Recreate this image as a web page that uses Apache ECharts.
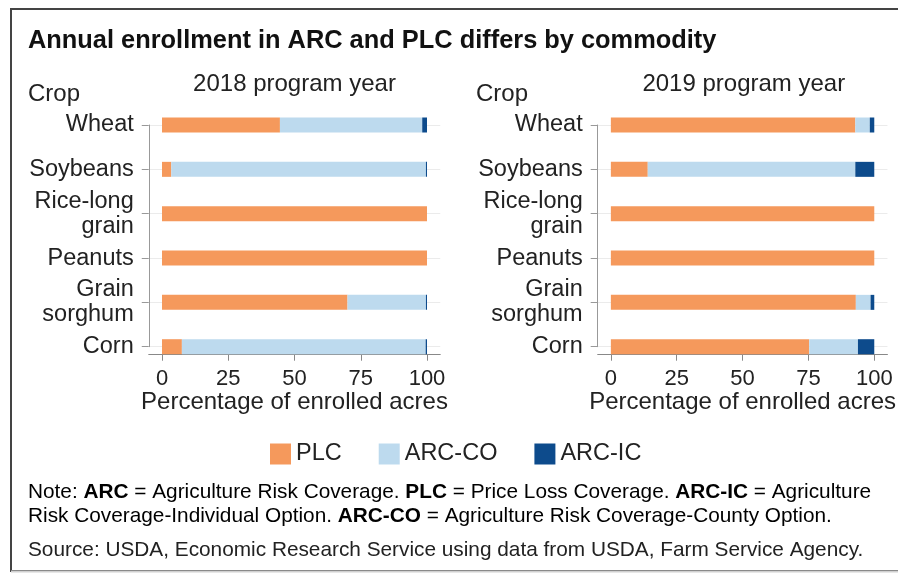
<!DOCTYPE html>
<html>
<head>
<meta charset="utf-8">
<script src="https://cdn.jsdelivr.net/npm/echarts@6/dist/echarts.min.js"></script>
<style>
html,body{margin:0;padding:0;background:#fff;}
#c{width:898px;height:577px;}
</style>
</head>
<body>
<div id="c"></div>
<script>
const categories = ['Wheat', 'Soybeans', 'Rice-long\ngrain', 'Peanuts', 'Grain\nsorghum', 'Corn'];
const plc2018   = [44.5, 3.5, 100, 100, 70, 7.5];
const arcco2018 = [53.7, 96.1, 0, 0, 29.6, 92];
const arcic2018 = [1.8, 0.4, 0, 0, 0.4, 0.5];
const plc2019   = [92.8, 14, 100, 100, 93, 75.3];
const arcco2019 = [5.5, 78.8, 0, 0, 5.6, 18.5];
const arcic2019 = [1.7, 7.2, 0, 0, 1.4, 6.2];
const xTicks = [0, 25, 50, 75, 100];
const seriesNames = ['PLC', 'ARC-CO', 'ARC-IC'];
const panelTitles = ['2018 program year', '2019 program year'];

const FONT = '"Liberation Sans", Arial, sans-serif';
const TXT = '#222';
const colors = ['#F5995C', '#BDDAEE', '#0D4B8C'];

const chart = echarts.init(document.getElementById('c'), null, {renderer: 'canvas'});

const grids = [
  {left: 148.75, width: 291.5, top: 125, height: 221.7},
  {left: 597.7, width: 292.3, top: 125, height: 221.7}
];

function xAxisFor(i) {
  return {
    type: 'value', gridIndex: i, min: -5, max: 105, offset: 8,
    axisLine: {show: true, onZero: false, lineStyle: {color: '#888', width: 1}},
    axisTick: {show: true, customValues: xTicks, length: 6, lineStyle: {color: '#888'}},
    axisLabel: {customValues: xTicks, fontSize: 22, color: TXT, fontFamily: FONT, margin: 13},
    splitLine: {show: false},
    name: 'Percentage of enrolled acres', nameLocation: 'middle', nameGap: 36,
    nameTextStyle: {fontSize: 24, color: TXT, fontFamily: FONT}
  };
}
function yAxisFor(i) {
  return {
    type: 'category', gridIndex: i, inverse: true, boundaryGap: false, data: categories,
    axisLine: {show: true, onZero: false, lineStyle: {color: '#999', width: 1}},
    axisTick: {show: true, length: 7, lineStyle: {color: '#999'}},
    splitLine: {show: true, lineStyle: {color: '#ebebeb', width: 1}},
    axisLabel: {fontSize: 23.5, color: TXT, fontFamily: FONT, lineHeight: 25, margin: 15, align: 'right'}
  };
}
const sets = [[plc2018, arcco2018, arcic2018], [plc2019, arcco2019, arcic2019]];
const series = [];
sets.forEach((vals, gi) => {
  vals.forEach((arr, si) => {
    series.push({
      type: 'bar', name: seriesNames[si], xAxisIndex: gi, yAxisIndex: gi,
      stack: 's' + gi, data: arr, barWidth: 15, clip: false,
      itemStyle: {color: colors[si]}, emphasis: {disabled: true}, animation: false
    });
  });
});

const noteStyle = {
  n: {fontSize: 20.8, fontFamily: FONT, color: TXT},
  b: {fontSize: 20.8, fontFamily: FONT, fontWeight: 'bold', color: TXT}
};

chart.setOption({
  backgroundColor: '#fff',
  animation: false,
  grid: grids,
  xAxis: [xAxisFor(0), xAxisFor(1)],
  yAxis: [yAxisFor(0), yAxisFor(1)],
  legend: {
    data: seriesNames, left: 265, top: 437, icon: 'rect', itemWidth: 21, itemHeight: 21,
    itemGap: 37, textStyle: {fontSize: 23.5, color: TXT, fontFamily: FONT}, selectedMode: false
  },
  series: series,
  graphic: [
    {type: 'rect', shape: {x: 11, y: 9, width: 900, height: 562}, style: {fill: null, stroke: '#444', lineWidth: 2}, silent: true},
    {type: 'line', shape: {x1: 11, y1: 571.5, x2: 898, y2: 571.5}, style: {stroke: '#d0d0d0', lineWidth: 2}, silent: true, z: 10},
    {type: 'text', x: 28, y: 41, style: {text: 'Annual enrollment in ARC and PLC differs by commodity', font: 'bold 25.4px ' + FONT, fill: '#111', textVerticalAlign: 'middle'}},
    {type: 'text', x: 28, y: 94, style: {text: 'Crop', font: '24px ' + FONT, fill: TXT, textVerticalAlign: 'middle'}},
    {type: 'text', x: 476, y: 94, style: {text: 'Crop', font: '24px ' + FONT, fill: TXT, textVerticalAlign: 'middle'}},
    {type: 'text', x: 294.5, y: 84, style: {text: panelTitles[0], font: '24px ' + FONT, fill: TXT, textAlign: 'center', textVerticalAlign: 'middle'}},
    {type: 'text', x: 743.8, y: 84, style: {text: panelTitles[1], font: '24px ' + FONT, fill: TXT, textAlign: 'center', textVerticalAlign: 'middle'}},
    {type: 'text', x: 28, y: 492, style: {
      text: '{n|Note: }{b|ARC}{n| = Agriculture Risk Coverage. }{b|PLC}{n| = Price Loss Coverage. }{b|ARC-IC}{n| = Agriculture}',
      rich: noteStyle, textVerticalAlign: 'middle'}},
    {type: 'text', x: 28, y: 516, style: {
      text: '{n|Risk Coverage-Individual Option. }{b|ARC-CO}{n| = Agriculture Risk Coverage-County Option.}',
      rich: noteStyle, textVerticalAlign: 'middle'}},
    {type: 'text', x: 28, y: 550, style: {
      text: 'Source: USDA, Economic Research Service using data from USDA, Farm Service Agency.',
      font: '20.8px ' + FONT, fill: TXT, textVerticalAlign: 'middle'}}
  ]
});
</script>
</body>
</html>
